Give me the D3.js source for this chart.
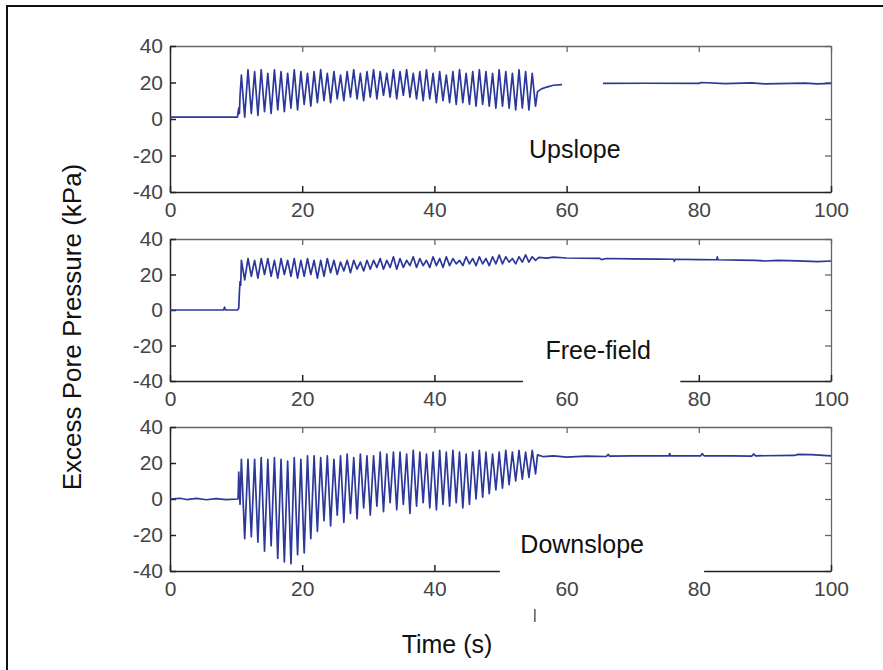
<!DOCTYPE html>
<html lang="en">
<head>
<meta charset="utf-8">
<script src="https://cdn.jsdelivr.net/npm/d3@7"></script>
<style>
  body { margin: 0; background: #fff; }
  svg text { font-family: "Liberation Sans", Arial, sans-serif; }
</style>
</head>
<body>
<script>
  // axis ticks and panel names
  let xTicks = [0, 20, 40, 60, 80, 100]
  let yTicks = [-40, -20, 0, 20, 40]
  let panelNames = ['Upslope', 'Free-field', 'Downslope']

  // shaking cycles: times of the peaks and troughs (s)
  let peakTimes = [10.8, 11.8, 12.8, 13.8, 14.8, 15.8, 16.8, 17.8, 18.8, 19.8,
                   20.8, 21.8, 22.8, 23.8, 24.8, 25.8, 26.8, 27.8, 28.8, 29.8,
                   30.8, 31.8, 32.8, 33.8, 34.8, 35.8, 36.8, 37.8, 38.8, 39.8,
                   40.8, 41.8, 42.8, 43.8, 44.8, 45.8, 46.8, 47.8, 48.8, 49.8,
                   50.8, 51.8, 52.8, 53.8, 54.8]
  let troughTimes = [11.3, 12.3, 13.3, 14.3, 15.3, 16.3, 17.3, 18.3, 19.3, 20.3,
                     21.3, 22.3, 23.3, 24.3, 25.3, 26.3, 27.3, 28.3, 29.3, 30.3,
                     31.3, 32.3, 33.3, 34.3, 35.3, 36.3, 37.3, 38.3, 39.3, 40.3,
                     41.3, 42.3, 43.3, 44.3, 45.3, 46.3, 47.3, 48.3, 49.3, 50.3,
                     51.3, 52.3, 53.3, 54.3, 55.3]

  // Upslope (kPa)
  let upStart = [[0, 1], [10.2, 1], [10.4, 6], [10.5, 3], [10.6, 13]]
  let upPeaks = [24, 27, 26, 27, 25, 27, 26, 25, 27, 26,
                 25, 26, 27, 25, 26, 24, 26, 27, 25, 26,
                 27, 26, 25, 27, 26, 27, 25, 26, 27, 25,
                 26, 24, 26, 27, 25, 26, 27, 26, 25, 27,
                 26, 25, 27, 26, 25]
  let upTroughs = [1, 3, 2, 4, 3, 5, 4, 6, 5, 8,
                   7, 9, 10, 9, 11, 10, 12, 11, 10, 12,
                   11, 13, 12, 11, 13, 12, 11, 10, 11, 9,
                   10, 9, 8, 9, 8, 7, 8, 7, 6, 7,
                   6, 5, 6, 5, 7]
  let upTail = [[55.6, 15], [56.2, 16.5], [57, 17.5], [58, 18.5], [59.3, 18.8], [62, null],
                [65.5, 19.5], [72, 19.6], [80, 19.5], [80.4, 20], [84, 19.4], [88, 19.8],
                [90, 19.2], [92, 19.4], [96, 19.7], [98, 19.3], [100, 19.5]]

  // Free-field (kPa)
  let freeStart = [[0, 0], [8.1, 0], [8.25, 1.6], [8.4, 0], [10.2, 0], [10.4, 1], [10.5, 10], [10.6, 16], [10.7, 14]]
  let freePeaks = [28, 29, 28, 29, 29, 28, 29, 28, 29, 28,
                   29, 28, 28, 29, 28, 27, 28, 28, 27, 28,
                   28, 29, 28, 30, 29, 28, 30, 29, 28, 30,
                   29, 30, 29, 28, 30, 29, 30, 29, 30, 31,
                   30, 29, 30, 31, 30]
  let freeTroughs = [17, 19, 18, 20, 19, 18, 20, 19, 18, 19,
                     20, 18, 19, 21, 20, 22, 21, 23, 22, 23,
                     24, 23, 24, 23, 24, 25, 24, 25, 24, 25,
                     24, 25, 26, 25, 26, 25, 26, 25, 26, 26,
                     27, 26, 27, 27, 28]
  let freeTail = [[55.8, 29.6], [57, 29.2], [58, 29.8], [60, 29.3], [65, 29.1], [65.3, 28.4], [66, 29],
                  [70, 28.8], [74, 28.7], [76.2, 28.6], [76.3, 27.4], [76.4, 28.6], [80, 28.4],
                  [82.7, 28.3], [82.8, 29.9], [82.9, 28.3], [86, 28.1], [88.5, 28], [90, 27.6],
                  [92, 28], [95, 27.7], [98, 27.3], [100, 27.6]]

  // Downslope (kPa)
  let downStart = [[0, 0], [1.5, 0.4], [2.5, -0.3], [4, 0.3], [5.5, -0.4], [7, 0.2], [8.5, -0.3],
                   [10.3, 0], [10.4, 15], [10.6, -3]]
  let downPeaks = [22, 22, 22, 23, 22, 23, 22, 21, 23, 22,
                   24, 24, 23, 24, 22, 24, 25, 23, 25, 24,
                   24, 26, 25, 26, 26, 25, 27, 26, 25, 26,
                   27, 26, 27, 26, 25, 26, 27, 26, 25, 26,
                   27, 26, 27, 26, 27]
  let downTroughs = [-22, -21, -24, -29, -26, -33, -35, -36, -31, -30,
                     -22, -18, -12, -15, -9, -13, -8, -11, -5, -9,
                     -4, -7, -2, -6, -3, -8, -4, -2, -5, -6,
                     -3, -4, -2, -5, -3, 0, 1, 3, 5, 6,
                     8, 10, 11, 12, 14]
  let downTail = [[55.6, 24.5], [56.5, 23.5], [58, 24], [60, 23.3], [63, 23.8], [66, 23.6],
                  [66.3, 24.8], [66.5, 23.8], [70, 24], [75.5, 24], [75.6, 25.3], [75.7, 24],
                  [80.3, 24], [80.5, 25.2], [80.8, 24], [85, 24], [88, 23.8], [88.3, 25],
                  [88.6, 24], [94.5, 24.2], [95, 24.8], [97, 24.6], [100, 24]]

  // glue start + cycles + tail together
  function buildSeries(start, peaks, troughs, tail) {
    let pts = start.slice()
    for (let i = 0; i < peaks.length; i++) {
      pts.push([peakTimes[i], peaks[i]])
      pts.push([troughTimes[i], troughs[i]])
    }
    return pts.concat(tail)
  }

  let series = [
    buildSeries(upStart, upPeaks, upTroughs, upTail),
    buildSeries(freeStart, freePeaks, freeTroughs, freeTail),
    buildSeries(downStart, downPeaks, downTroughs, downTail)
  ]

  let w = 883
  let h = 670
  let left = 170
  let right = 831
  let tops = [46, 239, 427]
  let bottoms = [192, 381, 571]
  let lineColor = '#2b3899'

  let svg = d3.select('body')
              .append('svg')
              .attr('width', w)
              .attr('height', h)

  // outer frame (only left and top show in the picture)
  svg.append('path')
     .attr('d', 'M7,' + h + 'V6H' + w)
     .attr('fill', 'none')
     .attr('stroke', '#111')
     .attr('stroke-width', 2)

  let x = d3.scaleLinear().domain([0, 100]).range([left, right])

  // plain hyphen for negatives, like the original
  let plain = function(d) { return String(d) }

  // white patches under the panel names (they hide part of the axis line)
  let boxes = [null, [53.4, 77.2, 330, 386], [49.9, 80.8, 520, 577]]
  let labelPos = [[54.3, 158], [56.8, 359], [53, 553]]

  for (let i = 0; i < 3; i++) {
    let y = d3.scaleLinear().domain([-40, 40]).range([bottoms[i], tops[i]])
    let g = svg.append('g')

    // box, ticks pointing inwards like matlab
    g.append('g')
     .attr('transform', 'translate(0,' + tops[i] + ')')
     .call(d3.axisTop(x).tickValues(xTicks).tickFormat('').tickSizeInner(-6).tickSizeOuter(0))
    g.append('g')
     .attr('transform', 'translate(' + right + ',0)')
     .call(d3.axisRight(y).tickValues(yTicks).tickFormat('').tickSizeInner(-6).tickSizeOuter(0))
    g.selectAll('path.domain, .tick line').attr('stroke', '#666').attr('stroke-width', 1.3)

    let gx = g.append('g')
              .attr('transform', 'translate(0,' + bottoms[i] + ')')
              .call(d3.axisBottom(x).tickValues(xTicks).tickFormat(plain).tickSizeInner(-6).tickSizeOuter(0).tickPadding(10))
    let gy = g.append('g')
              .attr('transform', 'translate(' + left + ',0)')
              .call(d3.axisLeft(y).tickValues(yTicks).tickFormat(plain).tickSizeInner(-6).tickSizeOuter(0).tickPadding(7))

    gx.selectAll('path.domain, .tick line').attr('stroke', '#222').attr('stroke-width', 1.5)
    gy.selectAll('path.domain, .tick line').attr('stroke', '#222').attr('stroke-width', 1.5)
    g.selectAll('.tick text')
     .attr('font-size', 21)
     .attr('fill', '#444')
     .attr('font-family', '"Liberation Sans", Arial, sans-serif')

    // the data
    let line = d3.line()
                 .defined(function(d) { return d[1] != null })
                 .x(function(d) { return x(d[0]) })
                 .y(function(d) { return y(d[1]) })

    g.append('path')
     .datum(series[i])
     .attr('d', line)
     .attr('fill', 'none')
     .attr('stroke', lineColor)
     .attr('stroke-width', 1.7)
     .attr('stroke-linejoin', 'round')

    if (boxes[i]) {
      g.append('rect')
       .attr('x', x(boxes[i][0]))
       .attr('width', x(boxes[i][1]) - x(boxes[i][0]))
       .attr('y', boxes[i][2])
       .attr('height', boxes[i][3] - boxes[i][2])
       .attr('fill', '#fff')
    }

    g.append('text')
     .text(panelNames[i])
     .attr('x', x(labelPos[i][0]))
     .attr('y', labelPos[i][1])
     .attr('font-size', 25)
     .attr('fill', '#111')
  }

  // little stray mark below the last panel
  svg.append('line')
     .attr('x1', x(55.2)).attr('x2', x(55.2))
     .attr('y1', 609).attr('y2', 622)
     .attr('stroke', '#555')
     .attr('stroke-width', 1.5)

  svg.append('text')
     .text('Time (s)')
     .attr('x', 447)
     .attr('y', 653)
     .attr('text-anchor', 'middle')
     .attr('font-size', 25)
     .attr('fill', '#111')

  svg.append('text')
     .text('Excess Pore Pressure (kPa)')
     .attr('transform', 'translate(81,327) rotate(-90)')
     .attr('text-anchor', 'middle')
     .attr('font-size', 26)
     .attr('fill', '#111')
</script>
</body>
</html>
